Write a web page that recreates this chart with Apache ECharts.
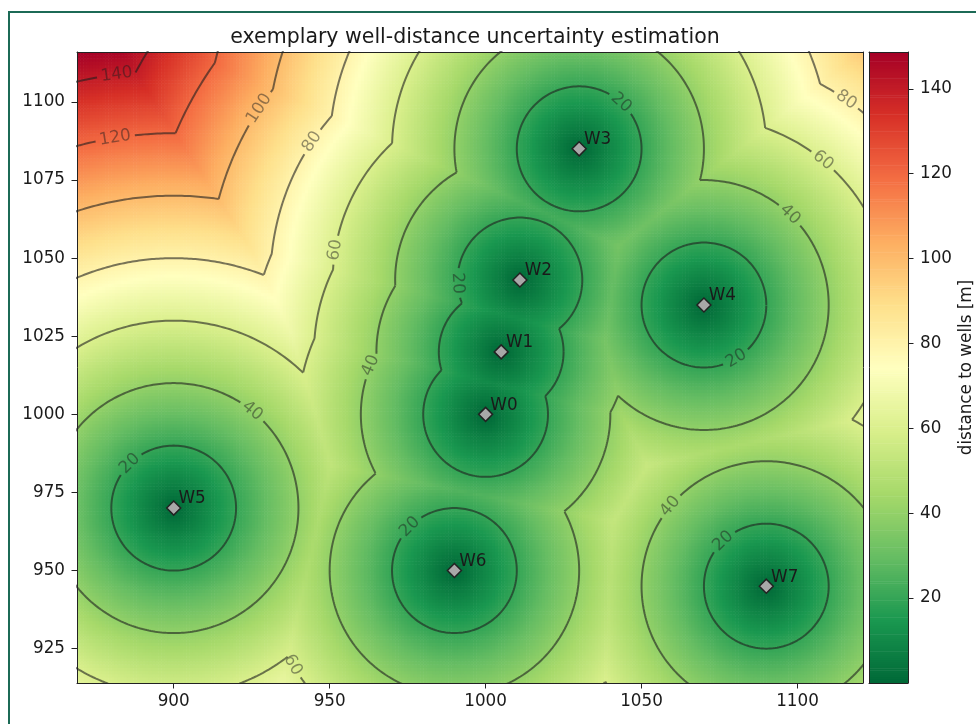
<!DOCTYPE html>
<html>
<head>
<meta charset="utf-8">
<script src="https://cdn.jsdelivr.net/npm/echarts@6/dist/echarts.min.js"></script>
<style>
  html, body { margin: 0; padding: 0; background: #fff; }
  #main { width: 976px; height: 724px; }
</style>
</head>
<body>
<div id="main"></div>
<script>
var myChart = echarts.init(document.getElementById('main'));

// well positions
const wellNames = ['W0', 'W1', 'W2', 'W3', 'W4', 'W5', 'W6', 'W7'];
const wellX = [1000, 1005, 1011, 1030, 1070, 900, 990, 1090];
const wellY = [1000, 1020, 1043, 1085, 1035, 970, 950, 945];

// contour levels and where their inline labels sit (level, well, angle in deg)
const levels = [20, 40, 60, 80, 100, 120, 140];
const labelLevel = [140, 120, 100, 80, 60, 20, 40, 40, 20, 20, 60, 20, 80, 60, 40, 20, 40, 20];
const labelWell  = [5, 5, 2, 2, 2, 2, 0, 5, 5, 6, 6, 3, 4, 4, 4, 4, 7, 7];
const labelAngle = [97.5, 99, 146.7, 146.4, 170.8, 183, 157, 51, 134.6, 135.6, 210.3, 47.7, 55.2, 50.5, 46.4, 301.3, 140.3, 133.8];

// axis ticks
const xTicks = [900, 950, 1000, 1050, 1100];
const yTicks = [925, 950, 975, 1000, 1025, 1050, 1075, 1100];
const cbTicks = [20, 40, 60, 80, 100, 120, 140];

const X_MIN = 869, X_MAX = 1121, Y_MIN = 914, Y_MAX = 1116;
const CELL = 1;
const PX_PER_UNIT = 3.12;
const LINE_COLOR = 'rgba(30,30,30,0.6)';

function distNearest(x, y) {
  let d = Infinity;
  for (let i = 0; i < wellX.length; i++) {
    d = Math.min(d, Math.hypot(x - wellX[i], y - wellY[i]));
  }
  return d;
}

// distance field on a grid
const cells = [];
let fieldMax = 0;
for (let y = Y_MIN + CELL / 2; y < Y_MAX; y += CELL) {
  for (let x = X_MIN + CELL / 2; x < X_MAX; x += CELL) {
    const d = distNearest(x, y);
    fieldMax = Math.max(fieldMax, d);
    cells.push([x, y, d]);
  }
}

// label gaps per (well, level)
function labelGaps(i, L) {
  const gaps = [];
  for (let k = 0; k < labelLevel.length; k++) {
    if (labelWell[k] === i && labelLevel[k] === L) {
      const halfPx = String(L).length * 5.3 + 4;
      gaps.push({ a: labelAngle[k] * Math.PI / 180, half: halfPx / (PX_PER_UNIT * L) });
    }
  }
  return gaps;
}

function angDiff(a, b) {
  let d = Math.abs(a - b) % (2 * Math.PI);
  return d > Math.PI ? 2 * Math.PI - d : d;
}

function onContour(i, L, th, gaps) {
  const px = wellX[i] + L * Math.cos(th), py = wellY[i] + L * Math.sin(th);
  for (let j = 0; j < wellX.length; j++) {
    if (j !== i && Math.hypot(px - wellX[j], py - wellY[j]) < L - 1e-9) return false;
  }
  for (const g of gaps) {
    if (angDiff(th, g.a) < g.half) return false;
  }
  return true;
}

// contour lines: arcs of each well circle that are not inside another well's circle
const contourData = [];
const STEPS = 720;
levels.forEach(function (L) {
  for (let i = 0; i < wellX.length; i++) {
    const gaps = labelGaps(i, L);
    const pt = th => [wellX[i] + L * Math.cos(th), wellY[i] + L * Math.sin(th)];
    let prevTh = 0, prevVis = onContour(i, L, 0, gaps);
    if (prevVis) contourData.push(pt(0));
    for (let k = 1; k <= STEPS; k++) {
      const th = 2 * Math.PI * k / STEPS;
      const vis = onContour(i, L, th, gaps);
      if (vis !== prevVis) {
        let a = prevTh, b = th;
        for (let it = 0; it < 30; it++) {
          const m = (a + b) / 2;
          if (onContour(i, L, m, gaps) === prevVis) a = m; else b = m;
        }
        const edge = pt((a + b) / 2);
        contourData.push(edge);
        if (prevVis) contourData.push(['-', '-']);
      }
      if (vis) contourData.push(pt(th));
      prevTh = th;
      prevVis = vis;
    }
    contourData.push(['-', '-']);
  }
});

const contourLabels = labelLevel.map(function (L, k) {
  const i = labelWell[k];
  const a = labelAngle[k] * Math.PI / 180;
  let rot = ((labelAngle[k] + 90) % 360 + 360) % 360;
  if (rot > 90 && rot <= 270) rot -= 180;
  else if (rot > 270) rot -= 360;
  return {
    name: String(L),
    value: [wellX[i] + L * Math.cos(a), wellY[i] + L * Math.sin(a)],
    label: { rotate: rot }
  };
});

const wells = wellNames.map((n, i) => ({ name: n, value: [wellX[i], wellY[i]] }));

// colour bar strips
const cbData = [];
for (let v = 0; v < fieldMax; v += 0.5) cbData.push([0.5, v + 0.25, v + 0.25]);

function renderCell(params, api) {
  const x = api.value(0), y = api.value(1);
  const p = api.coord([x - CELL / 2, y + CELL / 2]);
  const s = api.size([CELL, CELL]);
  return {
    type: 'rect',
    shape: { x: p[0], y: p[1], width: s[0] + 0.6, height: s[1] + 0.6 },
    style: { fill: api.visual('color') }
  };
}

function renderStrip(params, api) {
  const v = api.value(1);
  const p = api.coord([0, v + 0.25]);
  const s = api.size([1, 0.5]);
  return {
    type: 'rect',
    shape: { x: p[0], y: p[1], width: s[0], height: s[1] + 0.6 },
    style: { fill: api.visual('color') }
  };
}

const font = 'DejaVu Sans';
const textColor = '#1a1a1a';
const fs = 16.8;
const plain = v => String(v);

function frameAxis(grid, pos) {
  return {
    gridIndex: grid, type: 'value', position: pos, z: 10,
    axisLine: { show: true, onZero: false, lineStyle: { color: '#222', width: 1 } },
    axisTick: { show: false }, axisLabel: { show: false }, splitLine: { show: false }
  };
}

var option = {
  animation: false,
  backgroundColor: '#fff',
  title: {
    text: 'exemplary well-distance uncertainty estimation',
    left: 470,
    textAlign: 'center',
    top: 22,
    textStyle: { fontFamily: font, fontSize: 20.5, fontWeight: 'normal', color: textColor }
  },
  graphic: [{
    type: 'rect',
    shape: { x: 9, y: 12, width: 980, height: 730 },
    style: { fill: 'none', stroke: '#1c6a56', lineWidth: 2 },
    z: 100
  }],
  grid: [
    { left: 77, right: 113, top: 52, bottom: 41 },
    { left: 869, right: 68, top: 52, bottom: 41 }
  ],
  xAxis: [
    {
      gridIndex: 0, type: 'value', min: X_MIN, max: X_MAX, z: 10,
      axisLine: { show: true, onZero: false, lineStyle: { color: '#222', width: 1 } },
      axisTick: { show: true, length: 5.5, customValues: xTicks, lineStyle: { color: '#222' } },
      axisLabel: { customValues: xTicks, formatter: plain, margin: 10, fontFamily: font, fontSize: fs, color: textColor },
      splitLine: { show: false }
    },
    frameAxis(0, 'top'),
    Object.assign(frameAxis(1, 'bottom'), { min: 0, max: 1 }),
    Object.assign(frameAxis(1, 'top'), { min: 0, max: 1 })
  ],
  yAxis: [
    {
      gridIndex: 0, type: 'value', min: Y_MIN, max: Y_MAX, z: 10,
      axisLine: { show: true, onZero: false, lineStyle: { color: '#222', width: 1 } },
      axisTick: { show: true, length: 5.5, customValues: yTicks, lineStyle: { color: '#222' } },
      axisLabel: { customValues: yTicks, formatter: plain, margin: 12, fontFamily: font, fontSize: fs, color: textColor },
      splitLine: { show: false }
    },
    frameAxis(0, 'right'),
    {
      gridIndex: 1, type: 'value', min: 0, max: fieldMax, position: 'right', z: 10,
      name: 'distance to wells [m]',
      nameLocation: 'middle',
      nameRotate: 90,
      nameGap: 50,
      nameTextStyle: { fontFamily: font, fontSize: fs, color: textColor },
      axisLine: { show: true, onZero: false, lineStyle: { color: '#222', width: 1 } },
      axisTick: { show: true, length: 5.5, customValues: cbTicks, lineStyle: { color: '#222' } },
      axisLabel: { customValues: cbTicks, formatter: plain, margin: 12, fontFamily: font, fontSize: fs, color: textColor },
      splitLine: { show: false }
    },
    Object.assign(frameAxis(1, 'left'), { min: 0, max: fieldMax })
  ],
  visualMap: {
    type: 'continuous',
    show: false,
    min: 0,
    max: fieldMax,
    dimension: 2,
    seriesIndex: [0, 1],
    inRange: {
      color: ['#006837', '#1a9850', '#66bd63', '#a6d96a', '#d9ef8b', '#ffffbf',
              '#fee08b', '#fdae61', '#f46d43', '#d73027', '#a50026']
    }
  },
  series: [
    {
      type: 'custom', name: 'distance',
      xAxisIndex: 0, yAxisIndex: 0,
      data: cells, renderItem: renderCell,
      encode: { x: 0, y: 1 },
      clip: true, progressive: 0, silent: true, z: 1
    },
    {
      type: 'custom', name: 'colorbar',
      xAxisIndex: 2, yAxisIndex: 2,
      data: cbData, renderItem: renderStrip,
      encode: { x: 0, y: 1 },
      clip: true, progressive: 0, silent: true, z: 1
    },
    {
      type: 'line', name: 'contours',
      xAxisIndex: 0, yAxisIndex: 0,
      data: contourData,
      showSymbol: false, symbol: 'none',
      connectNulls: false, clip: true,
      lineStyle: { color: LINE_COLOR, width: 2 },
      silent: true, z: 3
    },
    {
      type: 'scatter', name: 'contour labels',
      xAxisIndex: 0, yAxisIndex: 0,
      data: contourLabels,
      symbolSize: 0,
      label: {
        show: true, position: 'inside', formatter: '{b}',
        fontFamily: font, fontSize: fs, color: LINE_COLOR
      },
      silent: true, z: 4
    },
    {
      type: 'scatter', name: 'wells',
      xAxisIndex: 0, yAxisIndex: 0,
      data: wells,
      symbol: 'diamond', symbolSize: 14,
      itemStyle: { color: '#a8a8a8', borderColor: '#222', borderWidth: 1.5, opacity: 1 },
      label: {
        show: true, position: 'right', distance: 0, offset: [-3, -9],
        formatter: '{b}', fontFamily: font, fontSize: fs, color: textColor
      },
      z: 5
    }
  ]
};

myChart.setOption(option);
</script>
</body>
</html>
